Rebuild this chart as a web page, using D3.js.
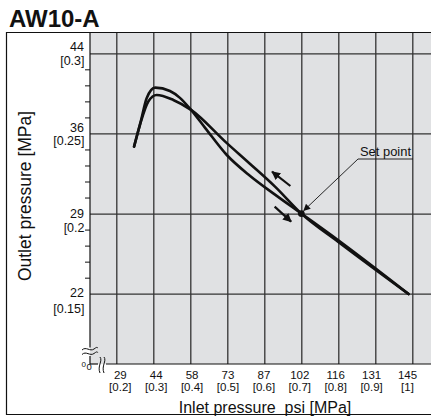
<!DOCTYPE html>
<html><head><meta charset="utf-8">
<script src="https://cdn.jsdelivr.net/npm/d3@7"></script>
<style>
html,body{margin:0;padding:0;background:#fff;}
svg{display:block;font-family:"Liberation Sans",Arial,Helvetica,sans-serif;}
</style></head><body>
<svg id="c" width="431" height="417"></svg>
<script>
// ---- data ----
const title = "AW10-A";
const xTickMPa = [0.2,0.3,0.4,0.5,0.6,0.7,0.8,0.9,1.0];
const xTickPsi = ["29","44","58","73","87","102","116","131","145"];
const xTickBr  = ["[0.2]","[0.3]","[0.4]","[0.5]","[0.6]","[0.7]","[0.8]","[0.9]","[1]"];
const yTickMPa = [0.3,0.25,0.2,0.15];
const yTickPsi = ["44","36","29","22"];
const yTickBr  = ["[0.3]","[0.25]","[0.2","[0.15]"];
const yMinorMPa = [0.29,0.28,0.27,0.26,0.24,0.23,0.22,0.21,0.19,0.18,0.17,0.16];
// curve with the higher peak (dips below after the crossing)
const curveA_in  = [0.248,0.266,0.282,0.305,0.345,0.372,0.402,0.440,0.498,0.561,0.629,0.700,0.800,0.990];
const curveA_out = [0.2418,0.2574,0.2720,0.2786,0.2765,0.2722,0.2647,0.2535,0.2367,0.2236,0.2118,0.2000,0.1833,0.1498];
// curve with the lower peak (straight above after the crossing)
const curveB_in  = [0.248,0.264,0.2865,0.309,0.354,0.402,0.498,0.561,0.629,0.700,0.800,0.990];
const curveB_out = [0.2418,0.2554,0.2699,0.2740,0.2709,0.2647,0.2441,0.2311,0.2168,0.2000,0.1823,0.1498];
const setPoint = {x:0.7, y:0.2, label:"Set point"};
const xTitle = "Inlet pressure  psi [MPa]";
const yTitle = "Outlet pressure [MPa]";

// ---- layout ----
const svg = d3.select("#c");
const plotL = 90, plotT = 32.5, plotB = 364, plotR = 440;
const x = d3.scaleLinear().domain([0.2,1.0]).range([116.3,412.3]);
const y = d3.scaleLinear().domain([0.15,0.3]).range([293.7,53.3]);
const ink = "#111";

// arrowhead markers
const defs = svg.append("defs");
defs.append("marker").attr("id","ah").attr("viewBox","0 0 10 10").attr("refX",9).attr("refY",5)
  .attr("markerWidth",4).attr("markerHeight",4).attr("orient","auto")
  .append("path").attr("d","M0,0L10,5L0,10z").attr("fill",ink);
defs.append("marker").attr("id","ah2").attr("viewBox","0 0 10 10").attr("refX",9).attr("refY",5)
  .attr("markerWidth",9).attr("markerHeight",7).attr("markerUnits","userSpaceOnUse").attr("orient","auto")
  .append("path").attr("d","M0,0L10,5L0,10z").attr("fill",ink);

// title
svg.append("text").attr("x",9).attr("y",27).attr("font-size",24).attr("font-weight","bold")
  .attr("fill",ink).text(title);

// gray plot area
svg.append("rect").attr("x",plotL).attr("y",plotT).attr("width",plotR-plotL).attr("height",plotB-plotT)
  .attr("fill","#e0e1e3");

// gridlines through axes
const gx = svg.append("g").attr("transform",`translate(0,${plotB})`)
  .call(d3.axisBottom(x).tickValues(xTickMPa).tickSize(-(plotB-plotT)).tickFormat(""));
gx.select(".domain").remove();
gx.selectAll("line").attr("stroke","#333").attr("stroke-width",1.3);
const gy = svg.append("g").attr("transform",`translate(${plotL},0)`)
  .call(d3.axisLeft(y).tickValues(yTickMPa).tickSize(-(plotR-plotL)).tickFormat(""));
gy.select(".domain").remove();
gy.selectAll("line").attr("stroke","#333").attr("stroke-width",1.3);

// minor ticks
const gm = svg.append("g").attr("transform",`translate(${plotL},0)`)
  .call(d3.axisLeft(y).tickValues(yMinorMPa).tickSize(5).tickFormat(""));
gm.select(".domain").remove();
gm.selectAll("line").attr("stroke",ink).attr("stroke-width",1);

// axes lines with breaks
svg.append("line").attr("x1",plotL).attr("x2",plotL).attr("y1",plotT).attr("y2",347.5).attr("stroke",ink).attr("stroke-width",1.2);
svg.append("line").attr("x1",plotL).attr("x2",plotL).attr("y1",356).attr("y2",plotB).attr("stroke",ink).attr("stroke-width",1.2);
svg.append("line").attr("x1",plotL).attr("x2",98).attr("y1",plotB).attr("y2",plotB).attr("stroke",ink).attr("stroke-width",1.2);
svg.append("line").attr("x1",106).attr("x2",plotR).attr("y1",plotB).attr("y2",plotB).attr("stroke",ink).attr("stroke-width",1.2);
// break symbols
[349,353.5].forEach(yy=>{
  svg.append("path").attr("d",`M82,${yy+1} C86,${yy-3} 90,${yy+3} 94,${yy} S97,${yy-1} 98,${yy-1}`)
    .attr("fill","none").attr("stroke",ink).attr("stroke-width",1);
});
[100,104].forEach(xx=>{
  svg.append("path").attr("d",`M${xx},357 C${xx+3},361 ${xx-3},366 ${xx},373`)
    .attr("fill","none").attr("stroke",ink).attr("stroke-width",1);
});
svg.append("text").attr("x",81.5).attr("y",366.5).attr("font-size",8).attr("fill",ink).text("0");
svg.append("text").attr("x",86.5).attr("y",370).attr("font-size",9.5).attr("fill",ink).text("0");

// y tick labels
const yNumDy = [-2.6,-1,4.7,3.3], yBrDy = [12,11.5,18.5,19.5];
yTickMPa.forEach((v,i)=>{
  svg.append("text").attr("x",84).attr("y",y(v)+yNumDy[i]).attr("text-anchor","end")
    .attr("font-size",12.5).attr("fill",ink).text(yTickPsi[i]);
  svg.append("text").attr("x",84.5).attr("y",y(v)+yBrDy[i]).attr("text-anchor","end")
    .attr("font-size",12.5).attr("fill",ink).text(yTickBr[i]);
});

// x tick labels
xTickMPa.forEach((v,i)=>{
  const cx = x(v) + 4 - i*1.1;
  svg.append("text").attr("x",cx).attr("y",379).attr("text-anchor","middle")
    .attr("font-size",11.5).attr("fill",ink).text(xTickPsi[i]);
  svg.append("text").attr("x",cx).attr("y",390.5).attr("text-anchor","middle")
    .attr("font-size",11.5).attr("fill",ink).text(xTickBr[i]);
});

// axis titles
svg.append("text").attr("x",265).attr("y",412.5).attr("text-anchor","middle")
  .attr("font-size",16).attr("fill",ink).style("white-space","pre").text(xTitle);
svg.append("text").attr("transform","translate(31,196) rotate(-90)").attr("text-anchor","middle")
  .attr("font-size",17.5).attr("fill",ink).text(yTitle);

// outer frame
svg.append("path").attr("d",`M440,32.5 H6.5 V414.5 H440`).attr("fill","none").attr("stroke",ink).attr("stroke-width",1.2);

// curves
const line = d3.line().x(d=>x(d[0])).y(d=>y(d[1])).curve(d3.curveMonotoneX);
const A = curveA_in.map((v,i)=>[v,curveA_out[i]]);
const B = curveB_in.map((v,i)=>[v,curveB_out[i]]);
[A,B].forEach(c=>{
  svg.append("path").attr("d",line(c)).attr("fill","none").attr("stroke",ink)
    .attr("stroke-width",2.6).attr("stroke-linecap","round").attr("stroke-linejoin","round");
});
svg.append("circle").attr("cx",x(setPoint.x)).attr("cy",y(setPoint.y)).attr("r",3.4).attr("fill",ink);

// direction arrows (in data units)
const arrows = [
  {from:[0.6705,0.2172], to:[0.6210,0.2261]},
  {from:[0.6280,0.2043], to:[0.6725,0.1950]}
];
arrows.forEach(a=>{
  svg.append("line").attr("x1",x(a.from[0])).attr("y1",y(a.from[1]))
    .attr("x2",x(a.to[0])).attr("y2",y(a.to[1]))
    .attr("stroke",ink).attr("stroke-width",2.2).attr("marker-end","url(#ah)");
});

// set point annotation
const lx = 358, ly = 159;
svg.append("line").attr("x1",lx).attr("y1",ly).attr("x2",x(setPoint.x)+2.5).attr("y2",y(setPoint.y)-3)
  .attr("stroke",ink).attr("stroke-width",0.9).attr("marker-end","url(#ah2)");
svg.append("line").attr("x1",lx).attr("y1",ly).attr("x2",413).attr("y2",ly).attr("stroke",ink).attr("stroke-width",0.9);
svg.append("text").attr("x",360).attr("y",155.5).attr("font-size",13).attr("fill",ink)
  .attr("textLength",51).attr("lengthAdjust","spacingAndGlyphs").text(setPoint.label);
</script>
</body></html>
